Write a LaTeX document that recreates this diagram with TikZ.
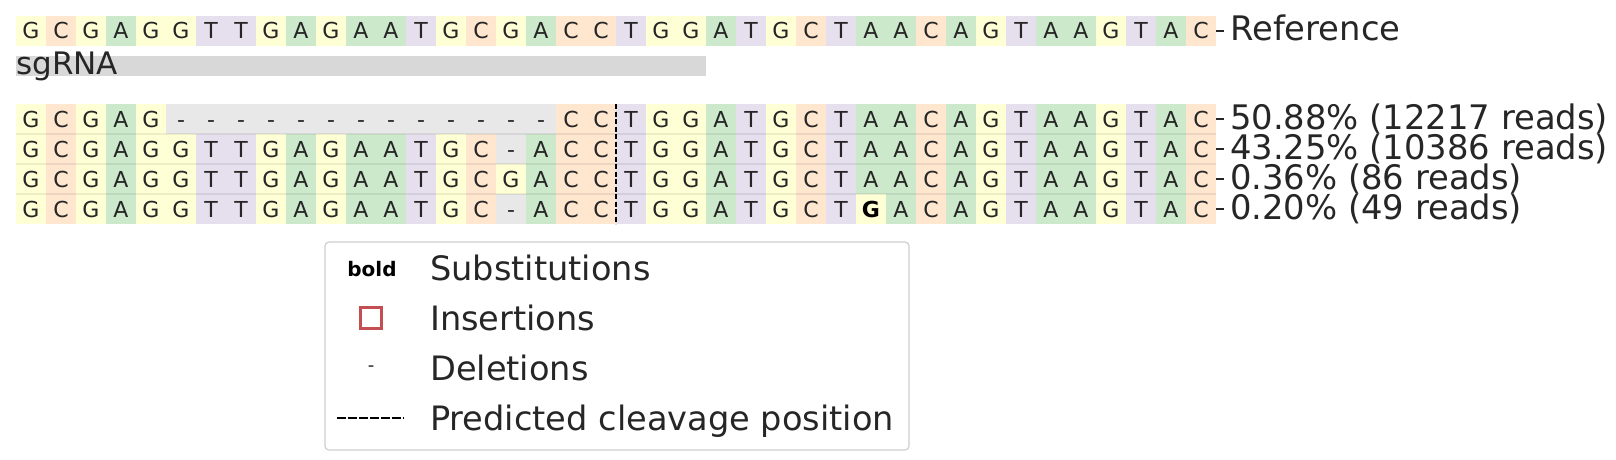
\documentclass[tikz,border=0pt]{standalone}
\usepackage{fontspec}
\setmainfont{DejaVu Sans}
\usetikzlibrary{positioning}

\definecolor{colA}{RGB}{204,233,204}
\definecolor{colC}{RGB}{254,230,207}
\definecolor{colG}{RGB}{255,255,214}
\definecolor{colT}{RGB}{229,223,238}
\definecolor{colDel}{RGB}{232,232,232}
\definecolor{colSg}{RGB}{216,216,216}
\definecolor{txt}{RGB}{38,38,38}
\definecolor{insred}{RGB}{196,78,82}
\definecolor{legframe}{RGB}{206,206,206}

% letter in a cell, g stands for a substituted (bold) G
\newcommand\basetxt[1]{\if g#1\textbf{G}\else#1\fi}
% one aligned row: name, y of its centre, letters
\newcommand\seqrow[3]{%
  \foreach \b [count=\i from 0] in {#3}
    \node[cell, nt\b] (#1c\i) at ({31+30*\i}, #2) {\basetxt{\b}};
}

\begin{document}
\begin{tikzpicture}[x=1pt, y=-1pt,
  cell/.style={rectangle, inner sep=0pt, outer sep=0pt, minimum width=30pt, minimum height=30pt, text=txt, font=\fontsize{22}{26}\selectfont, text height=16pt, text depth=0pt},
  ntA/.style={fill=colA}, ntC/.style={fill=colC}, ntG/.style={fill=colG}, ntT/.style={fill=colT},
  nt-/.style={fill=colDel}, ntg/.style={fill=colG, text=black},
  lbl/.style={inner sep=0pt, text=txt, font=\fontsize{33.8}{40}\selectfont},
  tick/.style={draw=txt, line width=1.3pt},
  cleave/.style={draw=black, line width=1.8pt, dash pattern=on 5pt off 2.5pt},
  rowsep/.style={draw=black, opacity=0.07, line width=1.2pt},
  legtxt/.style={inner sep=0pt, text=txt, font=\fontsize{33.6}{40}\selectfont}]
  \useasboundingbox (0,0) rectangle (1616,460);

  % reference and sgRNA
  \seqrow{r0}{31}{G,C,G,A,G,G,T,T,G,A,G,A,A,T,G,C,G,A,C,C,T,G,G,A,T,G,C,T,A,A,C,A,G,T,A,A,G,T,A,C}
  \node[fill=colSg, inner sep=0pt, minimum width=690pt, minimum height=20pt, anchor=north west] (sgrna) at ([yshift=-10pt] r0c0.south west) {};
  \node[lbl, font=\fontsize{31}{37}\selectfont, anchor=base west] (sglbl) at ([yshift=-8pt] sgrna.west) {sgRNA};

  % alleles
  \seqrow{r1}{119}{G,C,G,A,G,-,-,-,-,-,-,-,-,-,-,-,-,-,C,C,T,G,G,A,T,G,C,T,A,A,C,A,G,T,A,A,G,T,A,C}
  \seqrow{r2}{149}{G,C,G,A,G,G,T,T,G,A,G,A,A,T,G,C,-,A,C,C,T,G,G,A,T,G,C,T,A,A,C,A,G,T,A,A,G,T,A,C}
  \seqrow{r3}{179}{G,C,G,A,G,G,T,T,G,A,G,A,A,T,G,C,G,A,C,C,T,G,G,A,T,G,C,T,A,A,C,A,G,T,A,A,G,T,A,C}
  \seqrow{r4}{209}{G,C,G,A,G,G,T,T,G,A,G,A,A,T,G,C,-,A,C,C,T,G,G,A,T,G,C,T,g,A,C,A,G,T,A,A,G,T,A,C}
  \foreach \k in {1,2,3}
    \draw[rowsep] (r\k c0.south west) -- (r\k c39.south east);
  \draw[cleave] (r1c19.north east) -- (r4c19.south east);

  % row labels
  \foreach \k/\t in {0/Reference, 1/50.88\% (12217 reads), 2/43.25\% (10386 reads), 3/0.36\% (86 reads), 4/0.20\% (49 reads)} {
    \draw[tick] (r\k c39.east) -- ([xshift=8pt] r\k c39.east);
    \node[lbl, anchor=base west] (lbl\k) at ([xshift=14pt, yshift=-10pt] r\k c39.east) {\t};
  }

  % legend
  \node[draw=legframe, line width=1.2pt, rounded corners=4pt, fill=white, minimum width=584pt, minimum height=208pt] (legend) at (617,346) {};
  \node[inner sep=0pt, font=\bfseries\fontsize{20}{24}\selectfont, anchor=base] (keysub) at (372,276) {bold};
  \node[draw=insred, line width=3pt, inner sep=0pt, minimum size=21pt] (keyins) at (371.3,318.3) {};
  \node[inner sep=0pt, text=txt, font=\fontsize{18}{22}\selectfont] (keydel) at (371,369) {-};
  \coordinate (keycl0) at (337,418);
  \coordinate (keycl1) at (404,418);
  \draw[cleave, dash pattern=on 8.5pt off 2.5pt] (keycl0) -- (keycl1);
  \node[legtxt, anchor=base west] (txtsub) at (430,280) {Substitutions};
  \node[legtxt, anchor=base west] (txtins) at (430,330) {Insertions};
  \node[legtxt, anchor=base west] (txtdel) at (430,380) {Deletions};
  \node[legtxt, anchor=base west] (txtcl) at (430,430) {Predicted cleavage position};
\end{tikzpicture}
\end{document}
